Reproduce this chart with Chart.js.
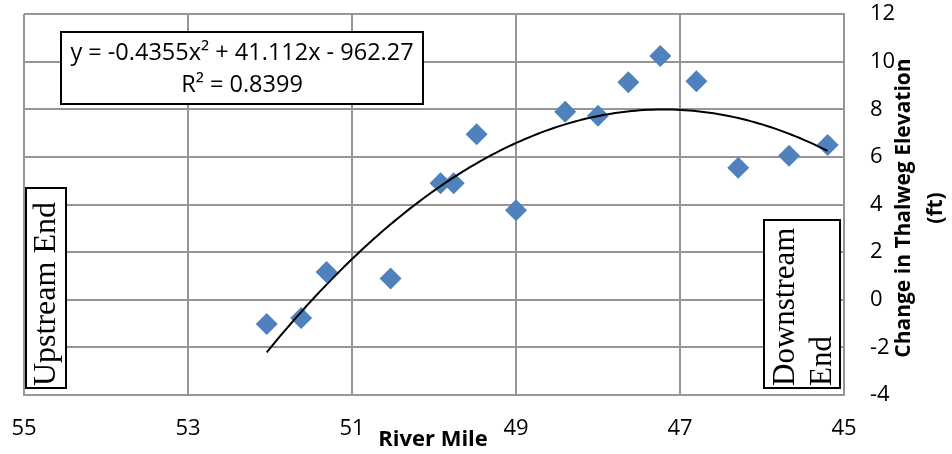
<!DOCTYPE html>
<html>
<head>
<meta charset="utf-8">
<script src="https://cdn.jsdelivr.net/npm/chart.js@4.4.1/dist/chart.umd.min.js"></script>
<style>
  html, body { margin: 0; padding: 0; background: #fff; }
  #wrap { width: 952px; height: 454px; }
</style>
</head>
<body>
<div id="wrap"><canvas id="chart" width="952" height="454"></canvas></div>
<script>
// River mile of each surveyed cross section
const riverMile = [52.04, 51.62, 51.31, 50.53, 49.92, 49.76, 49.48, 49.00, 48.40, 48.00, 47.63, 47.24, 46.80, 46.29, 45.67, 45.20];
// Change in thalweg elevation (ft)
const elevChange = [-1.02, -0.77, 1.17, 0.89, 4.89, 4.89, 6.95, 3.76, 7.90, 7.73, 9.13, 10.24, 9.18, 5.54, 6.05, 6.50];

// Polynomial trendline as shown on the chart
const trendA = -0.4355;
const trendB = 41.112;
const trendC = -962.27;
const trendLabel = ['y = -0.4355x\u00B2 + 41.112x - 962.27', 'R\u00B2 = 0.8399'];

const xTicks = [55, 53, 51, 49, 47, 45];
const yTicks = [-4, -2, 0, 2, 4, 6, 8, 10, 12];

const FONT = '"Open Sans", "Liberation Sans", sans-serif';
const SERIF = '"Liberation Serif", "DejaVu Serif", serif';

// trendline points over the range of the data
var trendPts = [];
var xStart = Math.max.apply(null, riverMile);
var xEnd = Math.min.apply(null, riverMile);
for (var x = xStart; x >= xEnd - 1e-9; x -= 0.05) {
    trendPts.push({ x: x, y: trendA * x * x + trendB * x + trendC });
}
trendPts.push({ x: xEnd, y: trendA * xEnd * xEnd + trendB * xEnd + trendC });

var points = riverMile.map(function (m, i) { return { x: m, y: elevChange[i] }; });

function noPad(scale) {
    scale.paddingLeft = 0;
    scale.paddingRight = 0;
    scale.paddingTop = 0;
    scale.paddingBottom = 0;
}

// text boxes and axis titles
const annotations = {
    id: 'annotations',
    afterDraw: function (chart) {
        var ctx = chart.ctx;
        ctx.save();

        // equation box
        ctx.fillStyle = '#fff';
        ctx.strokeStyle = '#000';
        ctx.lineWidth = 2;
        ctx.fillRect(61, 32, 362, 72);
        ctx.strokeRect(61, 32, 362, 72);
        ctx.fillStyle = '#000';
        ctx.font = '23.5px ' + FONT;
        ctx.textAlign = 'center';
        ctx.textBaseline = 'middle';
        ctx.fillText(trendLabel[0], 242, 53);
        ctx.fillText(trendLabel[1], 242, 85);

        // Upstream End box
        ctx.fillStyle = '#fff';
        ctx.fillRect(26, 188, 40, 200);
        ctx.strokeRect(26, 188, 40, 200);
        ctx.fillStyle = '#000';
        ctx.font = '32px ' + SERIF;
        ctx.save();
        ctx.translate(47, 386);
        ctx.rotate(-Math.PI / 2);
        ctx.textAlign = 'left';
        ctx.textBaseline = 'middle';
        ctx.fillText('Upstream End', 0, 0);
        ctx.restore();

        // Downstream End box
        ctx.fillStyle = '#fff';
        ctx.fillRect(764, 220, 76, 168);
        ctx.strokeRect(764, 220, 76, 168);
        ctx.fillStyle = '#000';
        ctx.font = '31px ' + SERIF;
        ctx.save();
        ctx.translate(786, 386);
        ctx.rotate(-Math.PI / 2);
        ctx.textAlign = 'left';
        ctx.textBaseline = 'middle';
        ctx.fillText('Downstream', 0, 0);
        ctx.fillText('End', 0, 37);
        ctx.restore();

        // axis titles
        ctx.font = 'bold 22px ' + FONT;
        ctx.textAlign = 'center';
        ctx.textBaseline = 'middle';
        ctx.fillText('River Mile', 433, 440);
        ctx.font = 'bold 21px ' + FONT;
        ctx.save();
        ctx.translate(904, 208);
        ctx.rotate(-Math.PI / 2);
        ctx.fillText('Change in Thalweg Elevation', 0, 0);
        ctx.fillText('(ft)', 0, 32);
        ctx.restore();

        ctx.restore();
    }
};

const ctx = document.getElementById('chart').getContext('2d');
new Chart(ctx, {
    type: 'scatter',
    data: {
        datasets: [
            {
                label: 'Change in Thalweg Elevation',
                data: points,
                pointStyle: 'rectRot',
                pointRadius: 11,
                pointHoverRadius: 11,
                backgroundColor: '#4F81BD',
                borderColor: '#4F81BD',
                borderWidth: 0,
                order: 1
            },
            {
                label: 'Poly. trend',
                data: trendPts,
                showLine: true,
                pointRadius: 0,
                borderColor: '#000',
                borderWidth: 2,
                fill: false,
                order: 0
            }
        ]
    },
    options: {
        responsive: false,
        animation: false,
        devicePixelRatio: 1,
        layout: { padding: { left: 24, top: 14, right: 0, bottom: 0 } },
        plugins: {
            legend: { display: false },
            tooltip: { enabled: false }
        },
        scales: {
            x: {
                type: 'linear',
                reverse: true,
                min: 45,
                max: 55,
                afterBuildTicks: function (scale) {
                    scale.ticks = xTicks.map(function (v) { return { value: v }; });
                },
                afterFit: function (scale) { scale.height = 59; noPad(scale); },
                ticks: {
                    color: '#000',
                    font: { family: FONT, size: 22 },
                    padding: 21,
                    maxRotation: 0
                },
                grid: { color: '#969696', lineWidth: 2, drawTicks: false },
                border: { color: '#969696', width: 2 }
            },
            y: {
                type: 'linear',
                position: 'right',
                min: -4,
                max: 12,
                afterBuildTicks: function (scale) {
                    scale.ticks = yTicks.map(function (v) { return { value: v }; });
                },
                afterFit: function (scale) { scale.width = 108; noPad(scale); },
                ticks: {
                    color: '#000',
                    font: { family: FONT, size: 22 },
                    padding: 26
                },
                grid: { color: '#969696', lineWidth: 2, drawTicks: false },
                border: { color: '#969696', width: 2 }
            }
        }
    },
    plugins: [annotations]
});
</script>
</body>
</html>
